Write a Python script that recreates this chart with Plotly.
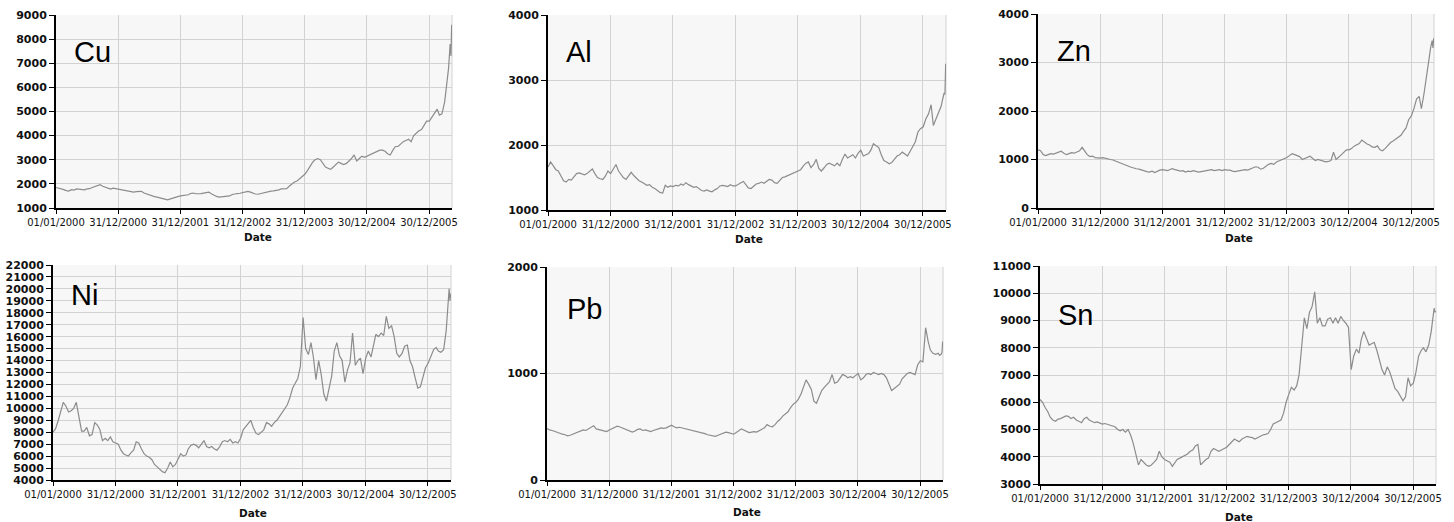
import plotly.graph_objects as go
import pandas as pd

W, H = 1454, 522

# ---- sample dates: 1st and 16th of each month, plus extra points in the final weeks
semi = []
for yr in range(2000, 2007):
    for mo in range(1, 13):
        for dy in (1, 16):
            t = pd.Timestamp(yr, mo, dy)
            if t <= pd.Timestamp(2006, 4, 16):
                semi.append(t.strftime("%Y-%m-%d"))
dates = semi + ["2006-04-24", "2006-05-03", "2006-05-08", "2006-05-12"]

tick_dates = ["2000-01-01", "2000-12-31", "2001-12-31", "2002-12-31",
              "2003-12-31", "2004-12-30", "2005-12-30"]
tick_labels = ["01/01/2000", "31/12/2000", "31/12/2001", "31/12/2002",
               "31/12/2003", "30/12/2004", "30/12/2005"]

metals = ["Cu", "Al", "Zn", "Ni", "Pb", "Sn"]

cu = [1850,1830,1800,1760,1720,1700,1760,1740,1790,1780,1760,1750,1790,1800,1850,1880,1930,1970,1900,1860,1830,1780,1820,1800,
      1790,1780,1760,1740,1720,1700,1660,1680,1700,1690,1620,1580,1540,1500,1470,1450,1430,1400,1370,1340,1380,1420,1460,1470,
      1500,1520,1560,1550,1600,1620,1590,1580,1600,1620,1640,1660,1590,1530,1480,1450,1460,1480,1470,1500,1560,1590,1600,1610,
      1640,1670,1690,1660,1620,1580,1570,1600,1640,1660,1680,1700,1710,1720,1750,1790,1780,1800,1900,2000,2080,2120,2200,2300,
      2400,2550,2750,2900,3000,3050,3000,2850,2700,2650,2600,2700,2800,2900,2850,2800,2850,2950,3050,3200,2950,3050,3150,3100,
      3150,3200,3250,3280,3350,3400,3400,3350,3250,3200,3400,3550,3550,3650,3750,3800,3850,3750,4000,4100,4200,4250,4450,4600,
      4600,4750,4950,5100,4850,4900,5400,6200,6800,7800,7300,8600]

al = [1660,1740,1680,1620,1600,1520,1450,1430,1470,1460,1520,1560,1570,1550,1540,1560,1600,1630,1560,1500,1480,1470,1520,1600,
      1560,1640,1700,1600,1560,1500,1470,1530,1580,1530,1480,1450,1430,1400,1380,1390,1350,1330,1300,1270,1260,1380,1350,1370,
      1360,1380,1370,1400,1380,1420,1390,1370,1350,1360,1330,1300,1290,1310,1290,1280,1310,1330,1370,1380,1370,1360,1390,1370,
      1370,1400,1420,1440,1390,1340,1330,1360,1400,1410,1430,1410,1440,1470,1460,1420,1410,1460,1500,1510,1530,1540,1560,1580,
      1600,1620,1680,1720,1740,1650,1700,1780,1640,1600,1650,1700,1720,1700,1680,1720,1680,1780,1860,1800,1820,1850,1800,1870,
      1920,1830,1850,1870,1920,2020,1990,1960,1850,1760,1740,1710,1730,1780,1830,1850,1890,1860,1830,1900,1980,2050,2200,2250,
      2280,2400,2480,2620,2300,2400,2520,2600,2700,2800,2780,3250]

zn = [1200,1180,1100,1080,1100,1120,1110,1130,1150,1170,1130,1100,1120,1140,1130,1150,1180,1250,1180,1100,1060,1070,1040,1030,
      1030,1040,1020,1010,1000,990,970,950,930,910,880,860,840,820,810,800,780,760,750,740,760,730,760,780,
      790,780,770,800,810,790,780,760,770,740,760,750,770,760,740,750,760,770,780,790,770,780,790,770,
      790,780,780,760,750,760,770,780,790,780,800,820,850,840,800,820,870,900,920,900,950,970,1000,1010,
      1040,1080,1120,1100,1080,1060,1000,1020,1040,1070,1020,980,1000,980,960,950,960,980,1150,1000,1050,1100,1150,1200,
      1200,1230,1280,1300,1330,1400,1350,1320,1300,1260,1250,1280,1200,1180,1230,1290,1350,1380,1420,1450,1500,1580,1650,1820,
      1900,2050,2250,2300,2050,2350,2700,3100,3300,3450,3300,3500]

ni = [8000,8300,9000,9900,10500,10200,9700,9800,10000,10500,9300,8100,8100,8400,7700,7800,8800,8600,8200,7300,7500,7300,7600,7200,
      7100,7000,6500,6200,6100,6000,6300,6500,7200,7100,6600,6200,6000,5900,5700,5300,5100,4900,4700,4600,5000,5500,5100,5300,
      5700,6200,6000,6100,6600,6900,7000,6900,6700,7000,7300,6800,6700,6800,6600,6500,6800,7200,7300,7200,7400,7100,7200,7100,
      7500,8200,8500,8700,9000,8400,7900,7800,8000,8200,8800,8700,8500,8800,9000,9300,9600,9900,10300,10900,11700,12100,12500,13500,
      17600,15000,14500,15500,14300,12400,14000,12800,11200,10600,11800,12700,14800,15500,14400,14000,12200,13200,13800,16300,13600,14000,14200,12900,
      14200,14800,14300,15200,16200,16000,16300,16100,17700,16700,16900,16000,14600,14300,14600,15200,15300,14000,13500,12600,11700,11800,12600,13400,
      13800,14300,14900,15100,14800,14700,14900,16500,18000,20000,19000,19600]

pb = [484,470,465,455,445,440,430,425,415,420,430,445,455,460,470,465,480,500,510,480,475,470,465,455,
      470,480,490,505,500,490,480,470,455,450,460,475,480,465,470,460,455,465,470,480,490,485,490,500,
      515,500,490,495,490,485,480,470,465,460,455,445,440,435,425,420,415,410,420,430,440,450,445,435,
      430,445,460,480,470,455,445,450,455,450,465,475,490,520,505,500,520,550,570,600,620,640,680,710,
      730,760,810,880,940,900,850,740,720,780,840,870,900,920,990,910,920,950,990,980,960,970,960,980,
      1000,940,960,990,1000,990,1010,1000,990,1000,990,960,900,840,860,880,900,950,980,1000,1010,1000,990,1080,
      1120,1110,1430,1300,1220,1190,1180,1190,1170,1180,1200,1300]

sn = [6100,6000,5800,5650,5450,5350,5300,5380,5400,5450,5500,5480,5400,5450,5350,5300,5250,5400,5450,5350,5300,5250,5280,5250,
      5200,5220,5180,5150,5120,5100,5000,4950,5000,4900,5000,4800,4500,4100,3700,3900,3800,3700,3650,3700,3800,3900,4200,4000,
      3900,3850,3800,3650,3750,3900,3950,4000,4050,4100,4200,4250,4400,4450,3700,3800,3900,3950,4200,4300,4250,4200,4250,4300,
      4350,4450,4550,4650,4600,4550,4650,4700,4750,4720,4700,4650,4700,4750,4800,4820,4850,5000,5200,5250,5300,5350,5600,6000,
      6300,6550,6450,6600,7000,7900,9100,8700,9300,9500,10050,8900,9100,8800,8800,9050,9100,8900,9100,8900,9150,9000,8900,8750,
      7200,7700,7950,7800,8300,8600,8300,8100,8150,8200,7900,7500,7200,7000,7300,7100,6800,6500,6400,6200,6050,6200,6900,6600,
      6700,7100,7700,7900,8000,7850,8100,8600,9000,9450,9300,9350]

series = [cu, al, zn, ni, pb, sn]
y_ranges = [(1000, 9000), (1000, 4000), (0, 4000), (4000, 22000), (0, 2000), (3000, 11000)]

# plot-area pixel boxes (left, right, top, bottom)
boxes = [(56, 452, 15, 208), (548, 946, 15, 210), (1038, 1434, 14, 208),
         (53, 451, 265, 480), (547, 943, 267, 480), (1040, 1436, 266, 484)]
label_pos = [(72, 52), (564, 52), (1055, 51), (69, 295), (565, 309), (1056, 315)]
date_pos = [(258, 237), (749, 239), (1239, 238), (253, 513), (747, 512), (1239, 517)]

fig = go.Figure()
layout = dict(width=W, height=H, margin=dict(l=0, r=0, t=0, b=0, autoexpand=False),
              paper_bgcolor="white", plot_bgcolor="#f7f7f7", showlegend=False,
              annotations=[], shapes=[])

for k, (name, vals, yr, box) in enumerate(zip(metals, series, y_ranges, boxes)):
    assert len(vals) == len(dates), (name, len(vals))
    i = "" if k == 0 else str(k + 1)
    fig.add_trace(go.Scatter(x=dates, y=vals, mode="lines", name=name,
                             line=dict(color="#8c8c8c", width=1.2),
                             xaxis="x" + i, yaxis="y" + i, hoverinfo="skip"))
    l, r, t, b = box
    yvals = list(range(yr[0], yr[1] + 1, 1000))
    layout["xaxis" + i] = dict(
        domain=[l / W, r / W], anchor="y" + i, type="date", automargin=False,
        range=["2000-01-01", "2006-05-14"],
        tickmode="array", tickvals=tick_dates, ticktext=tick_labels, tickangle=0,
        showgrid=True, gridcolor="#d2d2d2", gridwidth=1,
        showline=True, linecolor="black", linewidth=2,
        ticks="outside", ticklen=4, tickwidth=1, tickcolor="black",
        tickfont=dict(family="DejaVu Sans", size=10, color="#111"),
        zeroline=False, fixedrange=True)
    layout["yaxis" + i] = dict(
        domain=[1 - b / H, 1 - t / H], anchor="x" + i, automargin=False,
        range=list(yr), tickmode="array", tickvals=yvals,
        ticktext=["<b>%d</b>" % v for v in yvals],
        showgrid=True, gridcolor="#d2d2d2", gridwidth=1,
        showline=True, linecolor="black", linewidth=2,
        ticks="outside", ticklen=5, tickwidth=1, tickcolor="black",
        tickfont=dict(family="DejaVu Sans", size=11, color="#111"),
        zeroline=False, fixedrange=True)
    layout["shapes"].append(dict(type="line", xref="x" + i + " domain", yref="y" + i + " domain",
                                 x0=1, x1=1, y0=0, y1=1, line=dict(color="#d2d2d2", width=1),
                                 layer="below"))
    lx, ly = label_pos[k]
    layout["annotations"].append(dict(text=name, x=lx / W, y=1 - ly / H, xref="paper", yref="paper",
                                      xanchor="left", yanchor="middle", showarrow=False,
                                      font=dict(family="Liberation Sans", size=29, color="black")))
    dx, dy = date_pos[k]
    layout["annotations"].append(dict(text="<b>Date</b>", x=dx / W, y=1 - dy / H, xref="paper", yref="paper",
                                      xanchor="center", yanchor="middle", showarrow=False,
                                      font=dict(family="DejaVu Sans", size=10.5, color="#111")))

fig.update_layout(**layout)
fig.write_html("out.html")
